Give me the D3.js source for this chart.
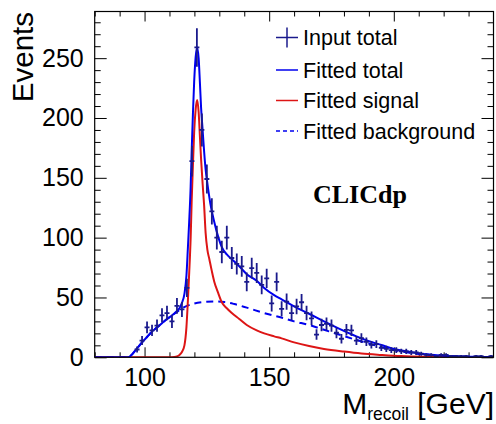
<!DOCTYPE html>
<html>
<head>
<meta charset="utf-8">
<script src="https://cdn.jsdelivr.net/npm/d3@7"></script>
<style>
  body { margin: 0; background: #fff; }
  svg text { font-family: "Liberation Sans", Arial, sans-serif; }
</style>
</head>
<body>
<svg width="496" height="424"></svg>
<script>
// binned input (bin centres, counts, errors)
const binCentres = [97, 99, 101, 103, 105, 107, 109, 111, 113, 115, 117, 119, 121, 123, 125, 127, 129, 131, 133, 135,
  137, 139, 141, 143, 145, 147, 149, 151, 153, 155, 157, 159, 161, 163, 165, 167, 169, 171, 173, 175,
  177, 179, 181, 183, 185, 187, 189, 191, 193, 195, 197, 199, 201, 203, 205, 207, 209, 211, 213, 215,
  217, 219, 221, 223, 225, 227, 229, 231, 233, 235, 237, 239];
const counts = [6.5, 14, 25, 22.5, 26.5, 35, 37, 30, 43, 40, 58, 164, 259, 190, 149, 122, 100, 88, 100, 83,
  78, 76, 63, 74.5, 70.5, 60.5, 66, 45, 63, 40.5, 46.5, 37, 42.5, 46, 37, 32.5, 19, 27, 28, 26.5,
  20.5, 15.5, 23, 22.5, 14, 16, 13, 10.5, 11, 8, 7, 6, 6, 5, 5, 4, 4, 3, 2, 2,
  1, 2, 2, 1, 1, 1, 1, 0, 1, 1, 0, 1];
const errors = [2.5, 3.7, 5, 4.7, 5.1, 5.9, 6.1, 5.5, 6.6, 6.3, 7.6, 12.8, 16.1, 13.8, 12.2, 11, 10, 9.4, 10, 9.1,
  8.8, 8.7, 7.9, 8.6, 8.4, 7.8, 8.1, 6.7, 7.9, 6.4, 6.8, 6.1, 6.5, 6.8, 6.1, 5.7, 4.4, 5.2, 5.3, 5.1,
  4.5, 3.9, 4.8, 4.7, 3.7, 4, 3.6, 3.2, 3.3, 2.8, 2.6, 2.4, 2.4, 2.2, 2.2, 2, 2, 1.7, 1.4, 1.4,
  1, 1.4, 1.4, 1, 1, 1, 1, 0, 1, 1, 0, 1];

// fitted curves, sampled [mass, events]
const fittedTotal = [[80, 0], [93, 0], [94, 0.5], [95, 2.5], [96, 5], [97, 7.5], [98, 10], [99, 12.5], [101, 17],
  [103, 21.5], [105, 25], [107, 28.5], [109, 32], [111, 35], [113, 38.8], [114, 41], [115, 45.5], [116, 53],
  [116.8, 68], [117.4, 92], [117.9, 113], [118.5, 143], [118.9, 172], [119.4, 203], [119.9, 230], [120.5, 251],
  [121.1, 259], [121.7, 250], [122.2, 230], [122.7, 208], [123.3, 190], [123.9, 172], [124.5, 157], [125.1, 147],
  [126.4, 128.5], [127.8, 114.6], [129.8, 99], [131, 92], [133, 86], [135, 82], [138, 76], [141, 69.5],
  [145, 64], [148, 58], [152, 52], [155, 48.5], [160, 42.5], [166, 36.4], [172, 30], [178, 24], [185, 17.5],
  [190, 13.5], [195, 10.3], [200, 7], [205, 5], [210, 3.2], [215, 2.2], [220, 1.3], [225, 0.9], [230, 0.5],
  [235, 0.3], [240, 0.2]];
const fittedSignal = [[80, 0], [110, 0], [112, 0.3], [113, 0.8], [114, 2], [115, 4.5], [116, 10], [116.8, 25],
  [117.4, 48], [117.9, 70], [118.5, 100], [118.9, 130], [119.4, 160], [119.9, 188], [120.5, 207], [121.1, 215],
  [121.7, 205], [122.2, 185], [122.7, 165], [123.3, 145], [123.9, 127], [124.5, 104], [125.2, 90], [126, 82],
  [127, 72], [128, 63], [129.5, 54], [131, 46], [133, 41], [135, 37], [138, 32], [141, 27], [145, 22.5],
  [148, 20], [152, 17.5], [155, 15.8], [160, 12.5], [166, 9.4], [172, 7], [180, 4.8], [187, 3.2], [195, 2],
  [203, 1], [212, 0.4], [225, 0.1], [240, 0]];
const fittedBackground = [[80, 0], [93, 0], [94, 0.5], [95, 2.5], [96, 5], [97, 7.5], [98, 10], [99, 12.5],
  [101, 17], [103, 21.5], [105, 25], [107, 28.5], [109, 32], [111, 35], [113, 38], [115, 41], [117, 43],
  [120, 45], [124, 46.3], [128, 46.7], [132, 46.2], [136, 44.5], [141, 41.5], [148, 37], [154.5, 33.4],
  [160, 30], [166, 27], [172, 23], [178, 19], [185, 14.5], [190, 11.5], [195, 8.5], [200, 6], [205, 4.2],
  [210, 2.8], [215, 1.8], [220, 1.2], [225, 0.8], [230, 0.5], [235, 0.3], [240, 0.2]];

const xMajor = [100, 150, 200];
const xMinor = [80, 90, 110, 120, 130, 140, 160, 170, 180, 190, 210, 220, 230];
const yMajor = [0, 50, 100, 150, 200, 250];
const yMinor = [10, 20, 30, 40, 60, 70, 80, 90, 110, 120, 130, 140, 160, 170, 180, 190, 210, 220, 230, 240, 260, 270, 280];

const legendItems = ["Input total", "Fitted total", "Fitted signal", "Fitted background"];

const dataColor = "#1a1a8c",
      totalColor = "#0000ee",
      signalColor = "#dd1515";

const plotLeft = 94.7, plotRight = 493.5, plotTop = 11.5, plotBottom = 357.3;

const svg = d3.select("svg");

const x = d3.scaleLinear().domain([80, 240]).range([plotLeft, plotRight]);
const y = d3.scaleLinear().domain([0, 289]).range([plotBottom, plotTop]);

svg.append("defs").append("clipPath").attr("id", "plot")
  .append("rect")
  .attr("x", plotLeft).attr("y", plotTop)
  .attr("width", plotRight - plotLeft).attr("height", plotBottom - plotTop);

// axes, ticks pointing inwards
function styleAxis(g) {
  g.select(".domain").remove();
  g.selectAll(".tick line").attr("stroke", "#000").attr("stroke-width", 1);
  g.selectAll("text").attr("fill", "#000").style("font-size", "25px")
    .style("font-family", "Liberation Sans, Arial, sans-serif");
}

svg.append("g")
  .attr("transform", `translate(0,${plotBottom})`)
  .call(d3.axisBottom(x).tickValues(xMajor).tickSize(-10).tickPadding(11).tickFormat(d3.format("d")))
  .call(styleAxis);
svg.append("g")
  .attr("transform", `translate(0,${plotBottom})`)
  .call(d3.axisBottom(x).tickValues(xMinor).tickSize(-5).tickFormat(""))
  .call(styleAxis);
svg.append("g")
  .attr("transform", `translate(0,${plotTop})`)
  .call(d3.axisTop(x).tickValues(xMajor).tickSize(-10).tickFormat(""))
  .call(styleAxis);
svg.append("g")
  .attr("transform", `translate(0,${plotTop})`)
  .call(d3.axisTop(x).tickValues(xMinor).tickSize(-5).tickFormat(""))
  .call(styleAxis);

svg.append("g")
  .attr("transform", `translate(${plotLeft},0)`)
  .call(d3.axisLeft(y).tickValues(yMajor).tickSize(-12).tickPadding(11).tickFormat(d3.format("d")))
  .call(styleAxis);
svg.append("g")
  .attr("transform", `translate(${plotLeft},0)`)
  .call(d3.axisLeft(y).tickValues(yMinor).tickSize(-6).tickFormat(""))
  .call(styleAxis);
svg.append("g")
  .attr("transform", `translate(${plotRight},0)`)
  .call(d3.axisRight(y).tickValues(yMajor).tickSize(-12).tickFormat(""))
  .call(styleAxis);
svg.append("g")
  .attr("transform", `translate(${plotRight},0)`)
  .call(d3.axisRight(y).tickValues(yMinor).tickSize(-6).tickFormat(""))
  .call(styleAxis);

// curves
const line = d3.line()
  .x(d => x(d[0]))
  .y(d => y(d[1]))
  .curve(d3.curveMonotoneX);

const plot = svg.append("g").attr("clip-path", "url(#plot)");

plot.append("path")
  .attr("d", line(fittedBackground))
  .attr("fill", "none")
  .attr("stroke", totalColor)
  .attr("stroke-width", 2)
  .attr("stroke-dasharray", "7,5");

plot.append("path")
  .attr("d", line(fittedSignal))
  .attr("fill", "none")
  .attr("stroke", signalColor)
  .attr("stroke-width", 2);

plot.append("path")
  .attr("d", line(fittedTotal))
  .attr("fill", "none")
  .attr("stroke", totalColor)
  .attr("stroke-width", 2);

// data points with error bars
const points = binCentres.map((m, i) => ({ m, v: counts[i], e: errors[i] }));

const pts = plot.selectAll(".pt")
  .data(points)
  .enter()
  .append("g")
  .attr("class", "pt")
  .attr("stroke", dataColor)
  .attr("stroke-width", 1.8);

pts.append("line")
  .attr("x1", d => x(d.m - 1)).attr("x2", d => x(d.m + 1))
  .attr("y1", d => y(d.v)).attr("y2", d => y(d.v));

pts.append("line")
  .attr("x1", d => x(d.m)).attr("x2", d => x(d.m))
  .attr("y1", d => y(d.v - d.e)).attr("y2", d => y(d.v + d.e));

// frame
svg.append("rect")
  .attr("x", plotLeft).attr("y", plotTop)
  .attr("width", plotRight - plotLeft).attr("height", plotBottom - plotTop)
  .attr("fill", "none")
  .attr("stroke", "#000")
  .attr("stroke-width", 1.2);

// legend
const legend = svg.append("g").attr("transform", "translate(276,0)");
const rowY = [37.5, 70, 100.5, 131];

legend.selectAll("text")
  .data(legendItems)
  .enter()
  .append("text")
  .attr("x", 27)
  .attr("y", (d, i) => rowY[i] + 7.5)
  .style("font-size", "21.5px")
  .attr("fill", "#000")
  .text(d => d);

legend.append("line")
  .attr("x1", 0).attr("x2", 22).attr("y1", rowY[0]).attr("y2", rowY[0])
  .attr("stroke", dataColor).attr("stroke-width", 1.5);
legend.append("line")
  .attr("x1", 11).attr("x2", 11).attr("y1", rowY[0] - 10).attr("y2", rowY[0] + 10)
  .attr("stroke", dataColor).attr("stroke-width", 1.5);
legend.append("line")
  .attr("x1", 0).attr("x2", 22).attr("y1", rowY[1]).attr("y2", rowY[1])
  .attr("stroke", totalColor).attr("stroke-width", 1.5);
legend.append("line")
  .attr("x1", 0).attr("x2", 22).attr("y1", rowY[2]).attr("y2", rowY[2])
  .attr("stroke", signalColor).attr("stroke-width", 1.5);
legend.append("line")
  .attr("x1", 0).attr("x2", 22).attr("y1", rowY[3]).attr("y2", rowY[3])
  .attr("stroke", totalColor).attr("stroke-width", 1.5)
  .attr("stroke-dasharray", "4,3");

// labels
svg.append("text")
  .attr("x", 313).attr("y", 203)
  .style("font-family", "Liberation Serif, Times New Roman, serif")
  .style("font-weight", "bold")
  .style("font-size", "26px")
  .text("CLICdp");

svg.append("text")
  .attr("transform", "translate(33,12) rotate(-90)")
  .attr("text-anchor", "end")
  .style("font-size", "29.5px")
  .text("Events");

const xTitle = svg.append("text")
  .attr("x", 494).attr("y", 414)
  .attr("text-anchor", "end")
  .style("font-size", "30px");
xTitle.append("tspan").text("M");
xTitle.append("tspan").attr("dy", 6).style("font-size", "17.5px").text("recoil");
xTitle.append("tspan").attr("dy", -6).text(" [GeV]");
</script>
</body>
</html>
